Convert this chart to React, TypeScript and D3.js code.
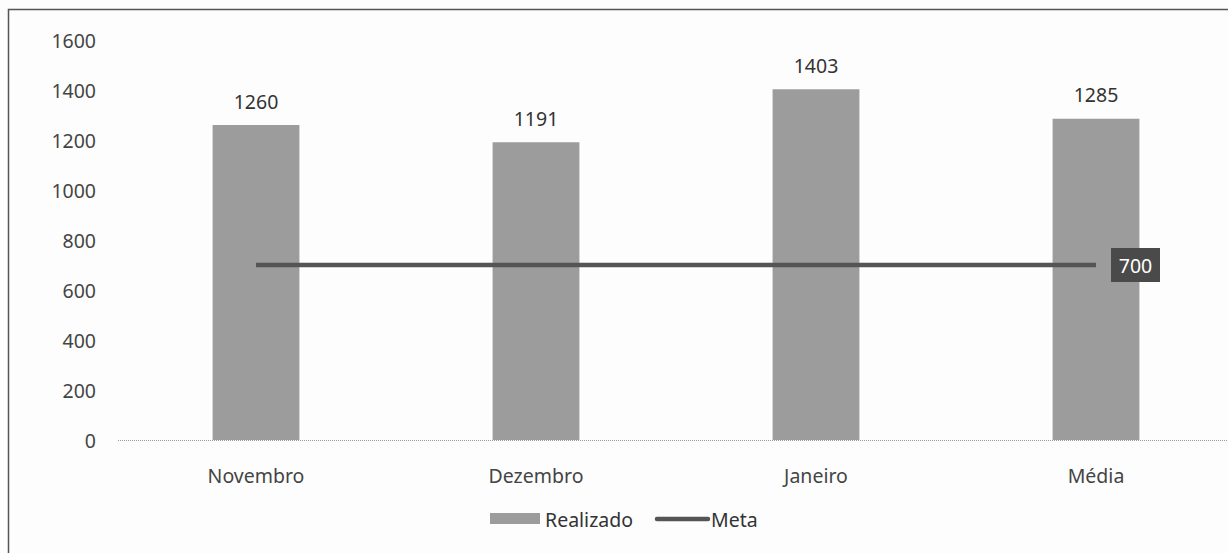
import React from 'react';
import * as d3 from 'd3';

const categories = ['Novembro', 'Dezembro', 'Janeiro', 'Média'];
const realizado = [1260, 1191, 1403, 1285];
const meta = [700, 700, 700, 700];
const yTicks = [0, 200, 400, 600, 800, 1000, 1200, 1400, 1600];

const W = 1228;
const H = 553;
const FONT = '"Noto Sans", "Open Sans", sans-serif';
const FS = 19.5;

export default function App() {
  const x = d3.scaleBand<string>().domain(categories).range([116, 1236]).paddingInner(0.69).paddingOuter(0.345);
  const y = d3.scaleLinear().domain([0, 1600]).range([440, 40]);

  const line = d3
    .line<number>()
    .x((_, i) => (x(categories[i]) as number) + x.bandwidth() / 2)
    .y((d) => y(d));

  const lastX = (x(categories[categories.length - 1]) as number) + x.bandwidth() / 2;

  return (
    <svg
      width={W}
      height={H}
      style={{ position: 'absolute', left: 0, top: 0, background: '#fdfdfd' }}
    >
      {/* frame */}
      <rect x={8.5} y={9.5} width={W} height={H} fill="none" stroke="#555" strokeWidth={1.5} />

      {/* y tick labels */}
      {yTicks.map((t) => (
        <text
          key={t}
          x={96}
          y={y(t)}
          textAnchor="end"
          dominantBaseline="central"
          fontFamily={FONT}
          fontSize={FS}
          fill="#444"
        >
          {t}
        </text>
      ))}

      {/* baseline */}
      <line x1={118} x2={W} y1={y(0) + 0.5} y2={y(0) + 0.5} stroke="#999" strokeWidth={1} strokeDasharray="1 1" />

      {/* bars */}
      {categories.map((c, i) => (
        <g key={c}>
          <rect
            x={x(c)}
            y={y(realizado[i])}
            width={x.bandwidth()}
            height={y(0) - y(realizado[i])}
            fill="#9c9c9c"
          />
          <text
            x={(x(c) as number) + x.bandwidth() / 2}
            y={y(realizado[i]) - 24}
            textAnchor="middle"
            dominantBaseline="central"
            fontFamily={FONT}
            fontSize={FS}
            fill="#333"
          >
            {realizado[i]}
          </text>
          <text
            x={(x(c) as number) + x.bandwidth() / 2}
            y={475}
            textAnchor="middle"
            dominantBaseline="central"
            fontFamily={FONT}
            fontSize={FS}
            fill="#444"
          >
            {c}
          </text>
        </g>
      ))}

      {/* meta line */}
      <path d={line(meta) || ''} fill="none" stroke="#555" strokeWidth={4.5} />

      {/* meta label */}
      <rect x={lastX + 15} y={y(meta[3]) - 17} width={49} height={34} fill="#4a4a4a" />
      <text
        x={lastX + 39.5}
        y={y(meta[3])}
        textAnchor="middle"
        dominantBaseline="central"
        fontFamily={FONT}
        fontSize={FS}
        fill="#fff"
      >
        {meta[3]}
      </text>

      {/* legend */}
      <rect x={490} y={513} width={50} height={11} fill="#9c9c9c" />
      <text x={545} y={519} dominantBaseline="central" fontFamily={FONT} fontSize={FS} fill="#333">
        Realizado
      </text>
      <line x1={657} x2={708} y1={519} y2={519} stroke="#555" strokeWidth={4.5} strokeLinecap="round" />
      <text x={711} y={519} dominantBaseline="central" fontFamily={FONT} fontSize={FS} fill="#333">
        Meta
      </text>
    </svg>
  );
}
